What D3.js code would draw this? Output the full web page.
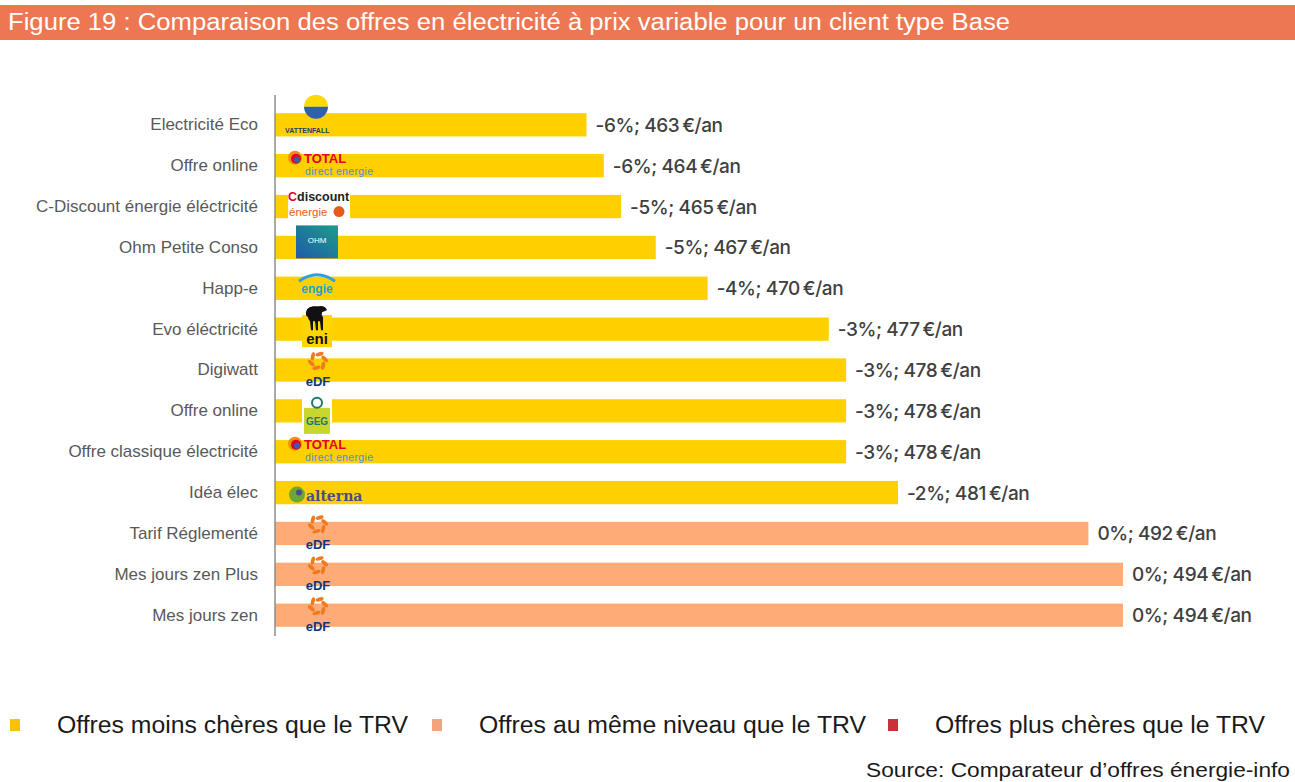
<!DOCTYPE html>
<html>
<head>
<meta charset="utf-8">
<script src="https://cdn.jsdelivr.net/npm/d3@7"></script>
<style>
  body { margin: 0; background: #fff; }
  svg { display: block; }
</style>
</head>
<body>
<svg id="chart" width="1295" height="782"></svg>
<script>
// data
var offers = ["Electricité Eco", "Offre online", "C-Discount énergie éléctricité", "Ohm Petite Conso",
    "Happ-e", "Evo éléctricité", "Digiwatt", "Offre online", "Offre classique électricité",
    "Idéa élec", "Tarif Réglementé", "Mes jours zen Plus", "Mes jours zen"];
var prices = [463, 464, 465, 467, 470, 477, 478, 478, 478, 481, 492, 494, 494];
var gaps = ["-6%", "-6%", "-5%", "-5%", "-4%", "-3%", "-3%", "-3%", "-3%", "-2%", "0%", "0%", "0%"];
var groups = ["moins", "moins", "moins", "moins", "moins", "moins", "moins", "moins", "moins", "moins", "meme", "meme", "meme"];
var brands = ["vattenfall", "total", "cdiscount", "ohm", "engie", "eni", "edf", "geg", "total", "alterna", "edf", "edf", "edf"];

var legendLabels = ["Offres moins chères que le TRV", "Offres au même niveau que le TRV", "Offres plus chères que le TRV"];
var legendKeys = ["moins", "meme", "plus"];

var colors = { moins: "#FFD000", meme: "#FFAB78", plus: "#C8323A" };
var legendColors = { moins: "#FFC000", meme: "#F4A47C", plus: "#C8323A" };

var font = "Liberation Sans, Arial, sans-serif";
var svg = d3.select("#chart");
var defs = svg.append("defs");

// title banner
svg.append("rect").attr("x", 0).attr("y", 5).attr("width", 1295).attr("height", 35).attr("fill", "#EC7752");
svg.append("text")
    .attr("x", 8).attr("y", 30)
    .attr("fill", "#fff")
    .attr("textLength", 1002).attr("lengthAdjust", "spacingAndGlyphs")
    .style("font-family", font)
    .style("font-size", "23px")
    .text("Figure 19 : Comparaison des offres en électricité à prix variable pour un client type Base");

var data = offers.map(function (d, i) {
    return { name: d, price: prices[i], gap: gaps[i], group: groups[i], brand: brands[i], idx: i };
});

var x = d3.scaleLinear().domain([445, 494]).range([275, 1123]);
var y = d3.scaleBand().domain(d3.range(offers.length)).range([105, 635]).paddingInner(0.43).paddingOuter(0.2);

var g = svg.append("g");

g.selectAll(".bar")
    .data(data)
    .enter().append("rect")
    .attr("class", "bar")
    .attr("x", x(445))
    .attr("y", function (d) { return y(d.idx); })
    .attr("width", function (d) { return x(d.price) - x(445); })
    .attr("height", y.bandwidth())
    .attr("fill", function (d) { return colors[d.group]; });

// left axis with category names
var yAxis = d3.axisLeft(y).tickSize(0).tickPadding(17).tickFormat(function (i) { return offers[i]; });
var axisG = g.append("g").attr("transform", "translate(275,0)").call(yAxis);
axisG.select(".domain").attr("d", "M0,95V636").attr("stroke", "#8c8c8c").attr("stroke-width", 1.5);
axisG.selectAll("text")
    .attr("fill", "#595959")
    .style("font-family", font)
    .style("font-size", "17px");

// value labels
g.selectAll(".val")
    .data(data)
    .enter().append("text")
    .attr("class", "val")
    .attr("x", function (d) { return x(d.price) + 9; })
    .attr("y", function (d) { return y(d.idx) + y.bandwidth() / 2 + 7; })
    .attr("fill", "#404040")
    .style("font-family", "Inter, Roboto, sans-serif")
    .style("font-size", "19px")
    .style("font-weight", 500)
    .style("letter-spacing", "-0.4px")
    .text(function (d) { return d.gap + "; " + d.price + "\u202F€/an"; });

// rough stand-ins for the supplier logos
function drawLogo(sel, brand) {
    if (brand === "vattenfall") {
        sel.append("path").attr("d", "M29,-18 A12,12 0 0 1 53,-18 Z").attr("fill", "#FFDA00");
        sel.append("path").attr("d", "M29,-18 A12,12 0 0 0 53,-18 Z").attr("fill", "#2F5FAE");
        sel.append("text").attr("x", 10).attr("y", 8).attr("fill", "#1E3A6E").style("font-family", font)
            .style("font-size", "7px").style("font-weight", "bold").text("VATTENFALL");
    } else if (brand === "total") {
        sel.append("circle").attr("cx", 20).attr("cy", -8).attr("r", 7).attr("fill", "#F39200");
        sel.append("circle").attr("cx", 21).attr("cy", -7).attr("r", 5).attr("fill", "#E4002B");
        sel.append("circle").attr("cx", 22).attr("cy", -6).attr("r", 3).attr("fill", "#2A64B0");
        sel.append("text").attr("x", 29).attr("y", -3).attr("fill", "#E4002B").style("font-family", font)
            .style("font-size", "13px").style("font-weight", "bold").text("TOTAL");
        sel.append("text").attr("x", 30).attr("y", 9).attr("fill", "#4A8FD4").style("font-family", font)
            .style("font-size", "10.5px").attr("textLength", 68).text("direct energie");
    } else if (brand === "cdiscount") {
        sel.append("rect").attr("x", 13).attr("y", -19).attr("width", 62).attr("height", 33).attr("fill", "#fff");
        var t = sel.append("text").attr("x", 13).attr("y", -6).attr("fill", "#222").style("font-family", font)
            .style("font-size", "12.5px").style("font-weight", "bold");
        t.append("tspan").attr("fill", "#E4002B").text("C");
        t.append("tspan").text("discount");
        sel.append("text").attr("x", 14).attr("y", 9).attr("fill", "#E85A1C").style("font-family", font)
            .style("font-size", "11.5px").text("énergie");
        sel.append("circle").attr("cx", 64).attr("cy", 5).attr("r", 5.5).attr("fill", "#E85A1C");
    } else if (brand === "ohm") {
        var lg = defs.select("#ohmgrad");
        if (lg.empty()) {
            lg = defs.append("linearGradient").attr("id", "ohmgrad").attr("x1", 0).attr("x2", 1).attr("y1", 1).attr("y2", 0);
            lg.append("stop").attr("offset", "0%").attr("stop-color", "#1F5BA8");
            lg.append("stop").attr("offset", "100%").attr("stop-color", "#1C9C8C");
        }
        sel.append("rect").attr("x", 21).attr("y", -22).attr("width", 42).attr("height", 33).attr("fill", "url(#ohmgrad)");
        sel.append("text").attr("x", 42).attr("y", -4).attr("text-anchor", "middle").attr("fill", "#fff")
            .style("font-family", font).style("font-size", "8px").text("OHM");
    } else if (brand === "engie") {
        sel.append("path").attr("d", "M24,-7 Q42,-20 60,-7").attr("fill", "none").attr("stroke", "#29A3DD").attr("stroke-width", 3);
        sel.append("text").attr("x", 42).attr("y", 5).attr("text-anchor", "middle").attr("fill", "#1EA1DC")
            .style("font-family", font).style("font-size", "12px").style("font-weight", "bold").text("engie");
    } else if (brand === "eni") {
        sel.append("rect").attr("x", 27).attr("y", -14).attr("width", 30).attr("height", 32).attr("fill", "#FFD500");
        // six-legged dog, simplified
        sel.append("path")
            .attr("d", "M31,-14 Q30,-22 38,-23 L44,-23 Q50,-24 52,-19 L47,-17 Q46,-14 48,-12 L48,1 L46,1 L45,-8 L43,-8 L43,1 L41,1 L40,-8 L38,-8 L38,1 L36,1 L35,-8 Q33,-10 33,-12 Z")
            .attr("fill", "#111");
        sel.append("text").attr("x", 42).attr("y", 15).attr("text-anchor", "middle").attr("fill", "#111")
            .style("font-family", font).style("font-size", "15px").style("font-weight", "bold").text("eni");
    } else if (brand === "edf") {
        var petals = d3.range(6);
        sel.selectAll(".petal").data(petals).enter().append("ellipse")
            .attr("cx", function (p) { return 43 + 7 * Math.cos(p * Math.PI / 3 - 0.3); })
            .attr("cy", function (p) { return -9 + 7 * Math.sin(p * Math.PI / 3 - 0.3); })
            .attr("rx", 4.2).attr("ry", 1.9)
            .attr("transform", function (p) {
                var cx = 43 + 7 * Math.cos(p * Math.PI / 3 - 0.3), cy = -9 + 7 * Math.sin(p * Math.PI / 3 - 0.3);
                return "rotate(" + (p * 60 + 43) + "," + cx + "," + cy + ")";
            })
            .attr("fill", "#F07A1E");
        sel.append("text").attr("x", 43).attr("y", 16).attr("text-anchor", "middle").attr("fill", "#10367A")
            .style("font-family", font).style("font-size", "13px").style("font-weight", "bold").text("eDF");
    } else if (brand === "geg") {
        sel.append("rect").attr("x", 27).attr("y", -16).attr("width", 30).attr("height", 42).attr("fill", "#fff");
        sel.append("rect").attr("x", 29).attr("y", -3).attr("width", 26).attr("height", 26).attr("fill", "#C8D62D");
        sel.append("circle").attr("cx", 42).attr("cy", -8).attr("r", 5).attr("fill", "none").attr("stroke", "#1C7A6A").attr("stroke-width", 2);
        sel.append("text").attr("x", 42).attr("y", 14).attr("text-anchor", "middle").attr("fill", "#1C7A6A")
            .style("font-family", font).style("font-size", "10px").style("font-weight", "bold").text("GEG");
    } else if (brand === "alterna") {
        sel.append("circle").attr("cx", 22).attr("cy", 2).attr("r", 8).attr("fill", "#6BA636");
        sel.append("circle").attr("cx", 24).attr("cy", 0).attr("r", 3).attr("fill", "#4B4B8A");
        sel.append("text").attr("x", 31).attr("y", 8).attr("fill", "#4B4B8A")
            .style("font-family", "DejaVu Serif, serif").style("font-size", "14px").style("font-weight", "bold").text("alterna");
    }
}

g.selectAll(".logo")
    .data(data)
    .enter().append("g")
    .attr("class", "logo")
    .attr("transform", function (d) { return "translate(275," + (y(d.idx) + y.bandwidth() / 2) + ")"; })
    .each(function (d) { drawLogo(d3.select(this), d.brand); });

// legend
var legendX = [10, 432, 888];
var legendW = [351, 387, 330];
var leg = svg.selectAll(".leg")
    .data(legendKeys)
    .enter().append("g")
    .attr("class", "leg")
    .attr("transform", function (d, i) { return "translate(" + legendX[i] + ",719)"; });
leg.append("rect").attr("width", 10).attr("height", 12).attr("fill", function (d) { return legendColors[d]; });
leg.append("text")
    .attr("x", 47).attr("y", 14)
    .attr("fill", "#1a1a1a")
    .attr("textLength", function (d, i) { return legendW[i]; })
    .attr("lengthAdjust", "spacingAndGlyphs")
    .style("font-family", font)
    .style("font-size", "23px")
    .text(function (d, i) { return legendLabels[i]; });

svg.append("text")
    .attr("x", 866).attr("y", 777)
    .attr("fill", "#1a1a1a")
    .attr("textLength", 424).attr("lengthAdjust", "spacingAndGlyphs")
    .style("font-family", font)
    .style("font-size", "21px")
    .text("Source: Comparateur d’offres énergie-info");
</script>
</body>
</html>
